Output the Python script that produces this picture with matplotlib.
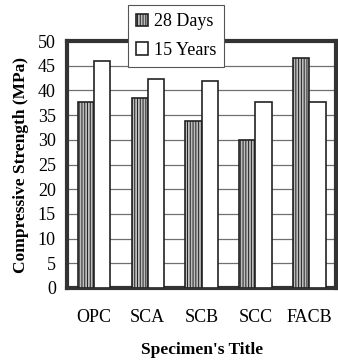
import numpy as np
import matplotlib.pyplot as plt

plt.rcParams['font.family'] = ['Liberation Serif', 'DejaVu Serif']
plt.rcParams['hatch.color'] = '#7a7a7a'
plt.rcParams['hatch.linewidth'] = 0.7

specimens = ['OPC', 'SCA', 'SCB', 'SCC', 'FACB']
days_28 = [37.7, 38.4, 33.9, 30.0, 46.6]
years_15 = [45.9, 42.3, 41.9, 37.7, 37.7]

fig = plt.figure(figsize=(3.38, 3.6), dpi=100)
ax = fig.add_axes([0.198, 0.2, 0.797, 0.686])

x = np.arange(len(specimens))
w = 0.3
ax.bar(x - w / 2, days_28, w, facecolor='#bdbdbd', edgecolor='#222222',
       linewidth=1.2, hatch='||||||', label='28 Days', zorder=3)
ax.bar(x + w / 2, years_15, w, facecolor='white', edgecolor='#222222',
       linewidth=1.2, label='15 Years', zorder=3)

ax.set_xlim(-0.5, 4.5)
ax.set_ylim(0, 50)
ax.set_yticks(range(0, 51, 5))
ax.set_xticks(x)
ax.set_xticklabels(specimens, fontsize=13)
ax.tick_params(axis='y', labelsize=13, length=0, pad=8)
ax.tick_params(axis='x', length=0, pad=15)
ax.yaxis.grid(True, color='#707070', linewidth=0.9, zorder=0)
ax.set_axisbelow(True)
for s in ax.spines.values():
    s.set_linewidth(3)
    s.set_color('#333333')

ax.set_ylabel('Compressive Strength (MPa)', fontsize=12.5, fontweight='bold', labelpad=6)
ax.set_xlabel("Specimen's Title", fontsize=12.5, fontweight='bold', labelpad=12)

leg = ax.legend(loc='upper left', bbox_to_anchor=(0.225, 1.145), fontsize=13,
                frameon=True, fancybox=False, framealpha=1, edgecolor='#555555',
                handlelength=0.7, handleheight=0.7, handletextpad=0.3,
                borderpad=0.45, labelspacing=0.65, borderaxespad=0)
leg.get_frame().set_linewidth(0.8)
leg.set_zorder(5)

fig.savefig('out.png', dpi=100)
